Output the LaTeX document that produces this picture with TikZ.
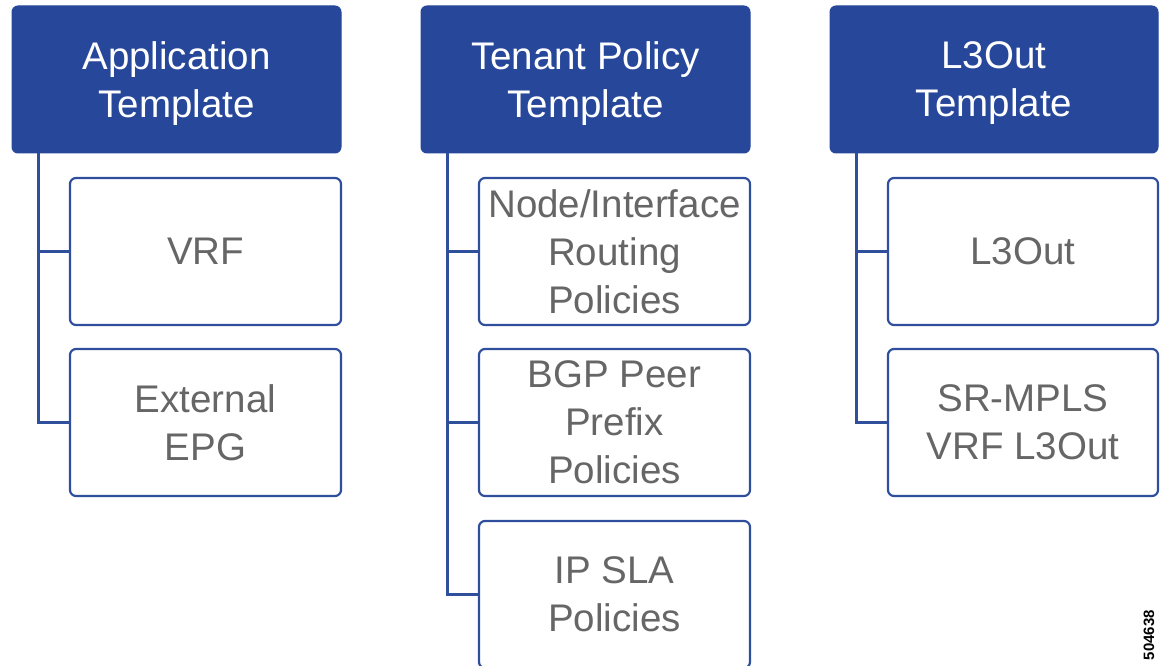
\documentclass[tikz,border=0pt]{standalone}
\usepackage{fontspec}
\setmainfont{Liberation Sans}
\begin{document}
\begin{tikzpicture}[x=1pt,y=-1pt,
  hdr/.style={fill=hdrblue,draw=hdrblue,rounded corners=6pt,line width=1pt},
  hdrtext/.style={text=white,font=\fontsize{38.5}{48}\selectfont,align=center,inner sep=0pt},
  item/.style={draw=lineblue,fill=white,rounded corners=6pt,line width=2.2pt,text=txtgray,font=\fontsize{38.5}{48}\selectfont,align=center,inner sep=0pt},
  conn/.style={draw=lineblue,line width=2.2pt}]
\definecolor{hdrblue}{HTML}{27489A}
\definecolor{lineblue}{HTML}{2F4E9C}
\definecolor{txtgray}{HTML}{666666}
\useasboundingbox (0,0) rectangle (1165,666);
% headers
\node[hdr,minimum width=329pt,minimum height=147pt] (h1) at (176.5,79.5) {};
\node[hdr,minimum width=329pt,minimum height=147pt] (h2) at (585.5,79.5) {};
\node[hdr,minimum width=328pt,minimum height=147pt] (h3) at (994,79.5) {};
\node[hdrtext] (h1t) at ([yshift=-4pt]h1.center) {Application\\Template};
\node[hdrtext] (h2t) at ([yshift=-4pt]h2.center) {Tenant Policy\\Template};
\node[hdrtext] (h3t) at ([yshift=-4pt]h3.center) {L3Out\\Template};
% items
\node[item,minimum width=271pt,minimum height=147pt] (a1) at (205.5,251.5) {VRF};
\node[item,minimum width=271pt,minimum height=147pt] (a2) at (205.5,422.5) {External\\EPG};
\node[item,minimum width=271pt,minimum height=147pt] (b1) at (614.5,251.5) {Node/Interface\\Routing\\Policies};
\node[item,minimum width=271pt,minimum height=147pt] (b2) at (614.5,422.5) {BGP Peer\\Prefix\\Policies};
\node[item,minimum width=271pt,minimum height=147pt] (b3) at (614.5,594.5) {IP SLA\\Policies};
\node[item,minimum width=270pt,minimum height=147pt] (c1) at (1023,251.5) {L3Out};
\node[item,minimum width=270pt,minimum height=147pt] (c2) at (1023,422.5) {SR-MPLS\\VRF L3Out};
% connectors
\coordinate (t1) at ([xshift=27pt]h1.south west);
\coordinate (t2) at ([xshift=27pt]h2.south west);
\coordinate (t3) at ([xshift=27pt]h3.south west);
\draw[conn] (t1) |- (a2.west);
\draw[conn] (t1 |- a1.west) -- (a1.west);
\draw[conn] (t2) |- (b3.west);
\draw[conn] (t2 |- b1.west) -- (b1.west);
\draw[conn] (t2 |- b2.west) -- (b2.west);
\draw[conn] (t3) |- (c2.west);
\draw[conn] (t3 |- c1.west) -- (c1.west);
\node[rotate=90,font=\bfseries\fontsize{15}{16}\selectfont,inner sep=0pt] (id) at (1149,635) {504638};
\end{tikzpicture}
\end{document}
